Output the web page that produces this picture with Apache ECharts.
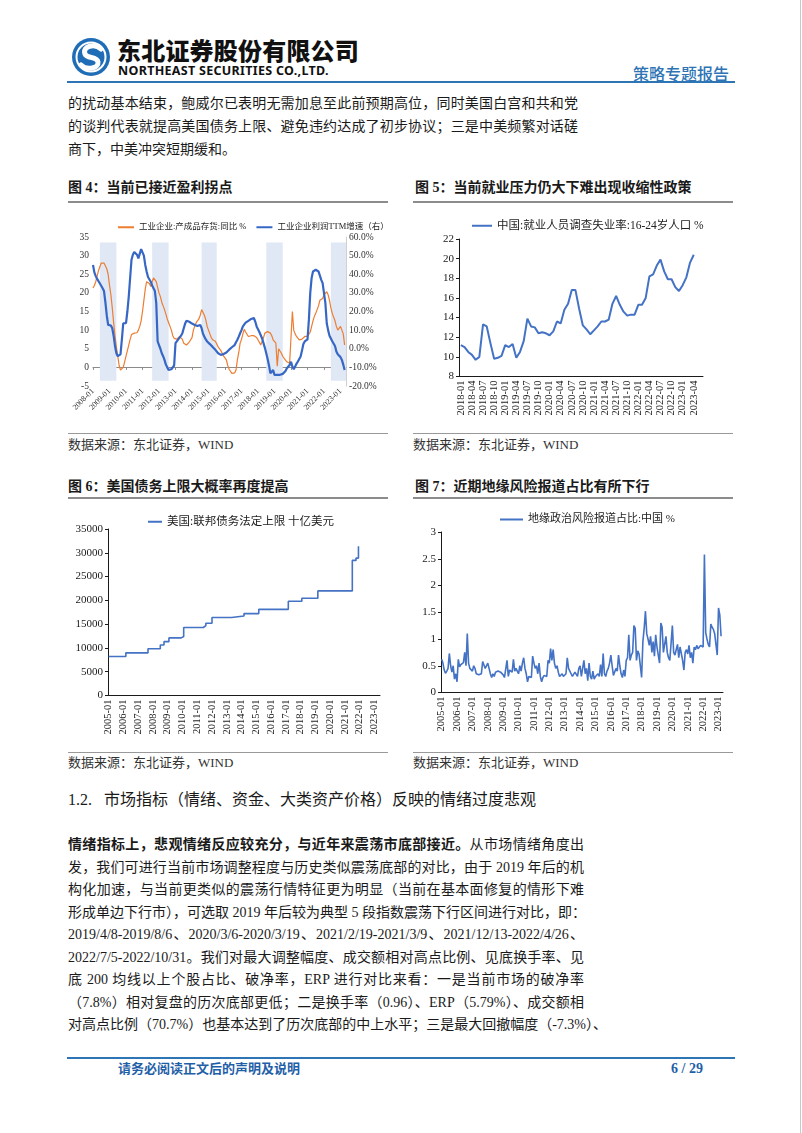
<!DOCTYPE html>
<html><head><meta charset="utf-8">
<script src="https://cdn.jsdelivr.net/npm/echarts@6/dist/echarts.min.js"></script>
<style>
html,body{margin:0;padding:0;background:#fff;}
body{width:802px;height:1133px;position:relative;overflow:hidden;font-family:"Liberation Serif","Noto Sans CJK SC",serif;color:#1a1a1a;}
.a{position:absolute;white-space:nowrap;}
.t14{font-size:14px;line-height:20px;}
.just{text-align:justify;text-align-last:justify;}
.hr{position:absolute;}
.ftitle{font-size:14px;font-weight:700;line-height:20px;font-family:"Liberation Serif","Noto Sans CJK SC",serif;}
.src{font-size:13px;line-height:18px;color:#333;}
.chart{position:absolute;}
</style></head>
<body>
<!-- header -->
<svg class="a" style="left:70px;top:36px" width="44" height="44" viewBox="0 0 44 44">
  <circle cx="21" cy="21" r="19" fill="#1f6db6"/>
  <circle cx="21" cy="21" r="14.5" fill="none" stroke="#fff" stroke-width="2"/>
  <path d="M31 13 C25 7,12 10,15 18 C17 23,27 20,28 26 C29 32,17 35,11 29" fill="none" stroke="#fff" stroke-width="5" stroke-linecap="round"/>
</svg>
<div class="a" style="left:117px;top:34px;font-family:'Noto Sans CJK SC';font-weight:900;font-size:24px;line-height:32px;letter-spacing:0.2px;color:#111;">东北证券股份有限公司</div>
<div class="a" style="left:118px;top:63px;font-family:'Noto Sans','DejaVu Sans',sans-serif;font-weight:700;font-size:12.5px;line-height:16px;letter-spacing:0.3px;color:#111;">NORTHEAST SECURITIES CO.,LTD.</div>
<div class="a" style="left:633px;top:62px;font-family:'Noto Sans CJK SC';font-weight:500;font-size:16px;line-height:22px;color:#2e74b5;">策略专题报告</div>
<div class="hr" style="left:67px;top:81px;width:668px;height:2px;background:#2e75b6;"></div>
<div class="hr" style="left:800px;top:0;width:1px;height:1133px;background:#c8c8c8;"></div>

<!-- top paragraph -->
<div class="a t14 just" style="left:68px;top:94px;width:510px;">的扰动基本结束，鲍威尔已表明无需加息至此前预期高位，同时美国白宫和共和党</div>
<div class="a t14 just" style="left:68px;top:117px;width:510px;">的谈判代表就提高美国债务上限、避免违约达成了初步协议；三是中美频繁对话磋</div>
<div class="a t14" style="left:68px;top:140px;">商下，中美冲突短期缓和。</div>

<!-- figure titles row 1 -->
<div class="a ftitle" style="left:68px;top:178px;">图 4：当前已接近盈利拐点</div>
<div class="a ftitle" style="left:415px;top:178px;">图 5：当前就业压力仍大下难出现收缩性政策</div>
<div class="hr" style="left:68px;top:201px;width:320px;height:2px;background:#8c8c8c;"></div>
<div class="hr" style="left:413px;top:201px;width:320px;height:2px;background:#8c8c8c;"></div>

<div id="c1" class="chart" style="left:60px;top:210px;width:335px;height:220px;"></div>
<div id="c2" class="chart" style="left:405px;top:210px;width:330px;height:220px;"></div>

<div class="hr" style="left:68px;top:433px;width:320px;height:1px;background:#999;"></div>
<div class="hr" style="left:413px;top:433px;width:320px;height:1px;background:#999;"></div>
<div class="a src" style="left:68px;top:436px;">数据来源：东北证券，WIND</div>
<div class="a src" style="left:413px;top:436px;">数据来源：东北证券，WIND</div>

<!-- figure titles row 2 -->
<div class="a ftitle" style="left:68px;top:477px;">图 6：美国债务上限大概率再度提高</div>
<div class="a ftitle" style="left:415px;top:477px;">图 7：近期地缘风险报道占比有所下行</div>
<div class="hr" style="left:68px;top:497px;width:320px;height:2px;background:#8c8c8c;"></div>
<div class="hr" style="left:413px;top:497px;width:320px;height:2px;background:#8c8c8c;"></div>

<div id="c3" class="chart" style="left:60px;top:500px;width:335px;height:248px;"></div>
<div id="c4" class="chart" style="left:405px;top:500px;width:330px;height:248px;"></div>

<div class="hr" style="left:68px;top:752px;width:320px;height:1px;background:#999;"></div>
<div class="hr" style="left:413px;top:752px;width:320px;height:1px;background:#999;"></div>
<div class="a src" style="left:68px;top:754px;">数据来源：东北证券，WIND</div>
<div class="a src" style="left:413px;top:754px;">数据来源：东北证券，WIND</div>

<!-- section -->
<div class="a" style="left:68px;top:789px;font-size:16px;line-height:22px;">1.2.&nbsp;&nbsp;&nbsp;市场指标（情绪、资金、大类资产价格）反映的情绪过度悲观</div>

<div class="a t14 just" style="left:68px;top:835px;width:516px;"><b>情绪指标上，悲观情绪反应较充分，与近年来震荡市底部接近。</b>从市场情绪角度出</div>
<div class="a t14 just" style="left:68px;top:857.5px;width:516px;">发，我们可进行当前市场调整程度与历史类似震荡底部的对比，由于 2019 年后的机</div>
<div class="a t14 just" style="left:68px;top:880px;width:516px;">构化加速，与当前更类似的震荡行情特征更为明显（当前在基本面修复的情形下难</div>
<div class="a t14 just" style="left:68px;top:902.5px;width:516px;">形成单边下行市），可选取 2019 年后较为典型 5 段指数震荡下行区间进行对比，即：</div>
<div class="a t14 just" style="left:68px;top:925px;width:516px;">2019/4/8-2019/8/6、2020/3/6-2020/3/19、2021/2/19-2021/3/9、2021/12/13-2022/4/26、</div>
<div class="a t14 just" style="left:68px;top:947.5px;width:516px;">2022/7/5-2022/10/31。我们对最大调整幅度、成交额相对高点比例、见底换手率、见</div>
<div class="a t14 just" style="left:68px;top:970px;width:516px;">底 200 均线以上个股占比、破净率，ERP 进行对比来看：一是当前市场的破净率</div>
<div class="a t14 just" style="left:68px;top:992.5px;width:516px;">（7.8%）相对复盘的历次底部更低；二是换手率（0.96）、ERP（5.79%）、成交额相</div>
<div class="a t14 just" style="left:68px;top:1015px;width:519px;">对高点比例（70.7%）也基本达到了历次底部的中上水平；三是最大回撤幅度（-7.3%）、</div>

<!-- footer -->
<div class="hr" style="left:67px;top:1057px;width:668px;height:2px;background:#2e75b6;"></div>
<div class="a" style="left:118px;top:1060px;font-size:13px;line-height:18px;font-weight:700;color:#1f5fa8;">请务必阅读正文后的声明及说明</div>
<div class="a" style="left:671px;top:1059px;font-size:14px;line-height:19px;font-weight:700;color:#1f5fa8;">6 / 29</div>

<script>
// ---------- helpers ----------
function monthRange(y0, m0, y1, m1) {
  var out = [];
  var y = y0, m = m0;
  while (y < y1 || (y === y1 && m <= m1)) {
    out.push(y + '-' + (m < 10 ? '0' + m : '' + m));
    m++; if (m > 12) { m = 1; y++; }
  }
  return out;
}
var FONT = 'Liberation Serif, Noto Sans CJK SC, serif';

// ---------- Chart 1 data (2008-01 .. 2023-04, monthly) ----------
var c1Categories = monthRange(2008, 1, 2023, 5);
var c1InvName = '工业企业:产成品存货:同比 %';
var c1ProfitName = '工业企业利润TTM增速（右）';
var c1Inventory = [
  21.3, 22, 23, 24.5, 26, 27, 28, 28.5, 28, 27.5, 26.5, 25,
  22, 19.5, 16, 12, 8.5, 5.5, 3, 0.5, -0.7, -0.5, 0, 1.5,
  3, 4.5, 6, 7.5, 8.8, 9.2, 9.2, 9, 9.3, 10, 11, 12.5,
  15, 18, 21, 23, 23.2, 22.5, 21.7, 23, 24, 24.2, 23, 21.5,
  20, 19, 17.5, 16.5, 15.5, 14.3, 13, 12, 11, 10, 8.5, 7.8,
  7.4, 7.6, 8, 8.3, 8.5, 7.5, 6.5, 6, 6, 6.5, 6.8, 7,
  8, 10, 11, 12, 12.5, 13, 14, 15.5, 15, 14, 12.8, 11,
  10, 9, 8, 7.4, 7.2, 7, 6.5, 5.5, 5, 4.5, 3.8, 3,
  2.5, 2, 0.5, -0.5, -1, -1.6, -1.8, -1.5, -0.7, 2, 4, 6.5,
  7.5, 9, 10.2, 9.5, 9, 8.3, 8, 8.5, 8.7, 8.5, 8.3, 8,
  7.4, 7, 6, 5.6, 8, 9.2, 9.6, 9.6, 9.4, 9.2, 8.5, 7.4,
  7, 6.5, 0.3, 5, 4.5, 3.8, 3, 2.4, 2, 1.5, 1.3, 1.1,
  1, 15, 10, 9, 8.3, 8, 7.4, 7.4, 7.6, 7.8, 8.3, 8.7,
  8.3, 8.5, 9.5, 11, 12.5, 13.7, 14.5, 15.5, 16.5, 18, 17.6, 18.5,
  19.5, 20, 20.3, 19.5, 18, 16, 14.5, 13.5, 12.5, 11, 10, 10.5,
  11, 10.5, 9, 6
];
var c1Profit = [
  45, 41, 39, 37.5, 36.5, 35, 34, 32.5, 31, 25, 18, 12.8,
  12, 12.5, 11, 7, 1.5, -2.4, -4, -5, -3, 5, 13.7, 13,
  13.7, 20, 28, 38, 47.8, 50.5, 52, 52.8, 50.5, 48.5, 47.8, 53.5,
  53.5, 50, 45, 41.5, 38.5, 37.5, 36, 34, 32.5, 31, 24.5, 4,
  2, 0, -2.4, -4, -6, -8.5, -10, -11.4, -11.5, -11, -10.5, -9,
  3, 4, 5, 5.7, 7, 8.3, 11, 13.5, 15, 15.2, 14.5, 13.7,
  13.5, 13, 12.8, 12.5, 12.2, 12, 12.8, 11, 8, 6.5, 5, 3.9,
  3, 2.5, 2, 1, 0, -0.6, -1.5, -2.4, -2.8, -3.3, -3.3, -2.8,
  -2.4, -2, -1.5, -0.5, 0.3, 0.8, 1.2, 2, 3.5, 4.8, 6.5, 8.3,
  10, 12, 13, 14, 14.6, 15, 15.5, 16, 17, 16.5, 14.6, 12,
  10.5, 9, 8, 5.5, 3, 0.5, -2.4, -5.5, -9, -13.2, -12.3, -11.4,
  -14, -14, -14, -14, -14, -14, -13.5, -13.2, -12, -10.5, -9.5, -8.7,
  -7, -9.6, -11, -10, -8, -6.9, -5.5, -4.2, -1, 2.5, 3.9, 4.5,
  5, 15.5, 30, 38, 41.5, 42.4, 42.4, 42, 41.5, 40.6, 37, 35.2,
  34.3, 24.5, 13.7, 10, 7, 5.5, 4, 3, 1.5, -1.5, -3, -4,
  -4.5, -6, -8.5, -11.4
];
// shaded periods [start, end]
var c1Shades = [['2008-06', '2009-06'], ['2011-08', '2012-08'], ['2014-08', '2015-07'], ['2018-07', '2019-07'], ['2022-06', '2023-05']];

// ---------- Chart 2 data (2018-01 .. 2023-04) ----------
var c2Categories = monthRange(2018, 1, 2023, 6);
var c2Name = '中国:就业人员调查失业率:16-24岁人口 %';
var c2Youth = [
  11.2, 11.0, 10.5, 10.2, 9.7, 10.0, 13.3, 13.1, 11.4, 9.8, 9.9, 10.1,
  11.2, 11.0, 11.3, 9.9, 10.5, 11.6, 13.9, 13.1, 13.0, 12.4, 12.5, 12.4,
  12.2, 12.6, 13.6, 13.4, 14.8, 15.4, 16.8, 16.8, 14.9, 13.2, 12.8, 12.3,
  12.7, 13.1, 13.6, 13.6, 13.8, 15.4, 16.2, 15.3, 14.6, 14.2, 14.3, 14.3,
  15.3, 15.3, 16.0, 18.2, 18.4, 19.3, 19.9, 18.7, 17.9, 17.9, 17.1, 16.7,
  17.3, 18.1, 19.6, 20.4
];

// ---------- Chart 3 data (debt ceiling steps) ----------
var c3Categories = monthRange(2005, 1, 2023, 5);
var c3Name = '美国:联邦债务法定上限 十亿美元';
var c3Months = ['2005-01', '2006-03', '2007-09', '2008-07', '2008-10', '2009-02', '2009-12', '2010-02', '2011-06', '2011-08', '2012-01', '2013-05', '2014-03', '2015-03', '2017-03', '2018-02', '2019-03', '2021-07', '2021-10', '2021-12'];
var c3Ceiling = [8184, 8965, 9815, 10615, 11315, 12104, 12394, 14294, 14694, 15194, 16394, 16699, 17212, 18113, 19809, 20456, 21988, 28401, 28881, 31381];

// ---------- Chart 4 data (2005-01 .. 2023-03) ----------
var c4Categories = monthRange(2005, 1, 2023, 4);
var c4Name = '地缘政治风险报道占比:中国 %';
var c4Risk = [
  0.62, 0.55, 0.42, 0.36, 0.4, 0.45, 0.73, 0.5, 0.38, 0.5, 0.25, 0.35,
  0.2, 0.62, 0.48, 0.52, 0.55, 0.56, 0.75, 0.5, 1.1, 0.55, 0.45, 0.42,
  0.4, 0.5, 0.45, 0.35, 0.38, 0.33, 0.3, 0.35, 0.58, 0.55, 0.45, 0.48,
  0.55, 0.45, 0.35, 0.28, 0.35, 0.3, 0.38, 0.35, 0.4, 0.42, 0.38, 0.36,
  0.33, 0.28, 0.25, 0.6, 0.3, 0.42, 0.4, 0.38, 0.62, 0.4, 0.45, 0.4,
  0.35, 0.5, 0.4, 0.55, 0.65, 0.45, 0.35, 0.2, 0.3, 0.32, 0.28, 0.68,
  0.55, 0.45, 0.5, 0.35, 0.55, 0.3, 0.2, 0.28, 0.32, 0.35, 0.3, 0.6,
  0.55, 0.82, 0.6, 0.8, 0.55, 0.45, 0.5, 0.38, 0.3, 0.32, 0.35, 0.3,
  0.32, 0.35, 0.65, 0.45, 0.4, 0.35, 0.3, 0.28, 0.38, 0.35, 0.3, 0.45,
  0.5, 0.3, 0.28, 0.6, 0.35, 0.45, 0.22, 0.55, 0.3, 0.25, 0.4, 0.25,
  0.3, 0.28, 0.35, 0.3, 0.52, 0.3, 0.73, 0.35, 0.3, 0.4, 0.45, 0.55,
  0.7, 0.5, 0.32, 0.3, 0.45, 0.4, 0.7, 0.5, 0.35, 0.28, 0.42, 0.3,
  0.6, 0.65, 1.08, 0.6, 0.7, 0.75, 1.25, 1.2, 0.6, 0.78, 0.72, 0.7,
  0.28, 0.95, 1.2, 1.52, 1.1, 1.0, 0.88, 1.05, 0.75, 0.95, 0.68, 1.08,
  0.85, 0.7, 0.55, 1.3, 1.22, 0.75, 0.9, 1.05, 0.75, 0.65, 0.6, 0.6,
  1.25, 0.75, 0.7, 0.8, 0.9, 0.65, 0.85, 0.88, 0.6, 0.42, 0.75, 0.8,
  0.72, 0.88, 0.65, 0.75, 0.55, 0.85, 0.8, 0.88, 0.82, 0.85, 0.88, 0.9,
  0.85, 2.58, 1.12, 1.0, 0.9, 0.85, 1.28, 1.22, 1.18, 1.1, 0.9, 0.7,
  1.58, 1.45, 1.05
];

// ---------- common axis styles ----------
var black = '#1a1a1a';
function valAxis(min, max, interval, extra) {
  var o = {
    type: 'value', min: min, max: max, interval: interval,
    axisLine: { show: true, lineStyle: { color: black, width: 1 } },
    axisTick: { show: true, length: 3, lineStyle: { color: black } },
    splitLine: { show: false },
    axisLabel: { fontSize: 11, color: black, fontFamily: FONT, margin: 5,
      formatter: function (v) { return String(v); } }
  };
  if (extra) for (var k in extra) o[k] = extra[k];
  return o;
}
function catAxis(cats, interval, extra) {
  var o = {
    type: 'category', data: cats, boundaryGap: true,
    axisLine: { lineStyle: { color: black, width: 1 } },
    axisTick: { interval: interval, alignWithLabel: true, length: 3, lineStyle: { color: black } },
    axisLabel: { rotate: 90, interval: interval, fontSize: 10.5, color: black, fontFamily: FONT, margin: 4 }
  };
  if (extra) for (var k in extra) o[k] = extra[k];
  return o;
}
function legend(left, top, iw, fs, names) {
  return {
    left: left, top: top, itemWidth: iw, itemHeight: 2, itemGap: 10,
    textStyle: { fontSize: fs, color: '#222', fontFamily: FONT },
    data: names.map(function (n) { return { name: n, icon: 'rect' }; })
  };
}

// ---------- Chart 1 ----------
var ch1 = echarts.init(document.getElementById('c1'), null, { renderer: 'canvas' });
ch1.setOption({
  animation: false,
  textStyle: { fontFamily: FONT },
  legend: legend(53, 8, 16, 8.5, [c1InvName, c1ProfitName]),
  grid: { left: 33, top: 27, width: 253, height: 149 },
  xAxis: [
    { type: 'category', data: c1Categories, boundaryGap: false,
      axisLine: { onZero: true, onZeroAxisIndex: 0, lineStyle: { color: '#8a8a8a' } },
      axisTick: { interval: 11, length: 2.5, lineStyle: { color: '#8a8a8a' } },
      axisLabel: { show: false } },
    { type: 'category', data: c1Categories, boundaryGap: false, position: 'bottom',
      axisLine: { show: false, onZero: false }, axisTick: { show: false },
      axisLabel: { rotate: 45, interval: 11, fontSize: 8, color: '#333', fontFamily: FONT, margin: 4 } }
  ],
  yAxis: [
    { type: 'value', min: -5, max: 35, interval: 5, axisLine: { show: false }, axisTick: { show: false },
      splitLine: { show: false }, axisLabel: { fontSize: 9.5, color: '#333', fontFamily: FONT, margin: 4 } },
    { type: 'value', min: -20, max: 60, interval: 10, position: 'right',
      axisLine: { show: true, lineStyle: { color: '#d0d0d0' } }, axisTick: { show: false },
      splitLine: { show: false },
      axisLabel: { fontSize: 9.5, color: '#333', fontFamily: FONT, margin: 3,
        formatter: function (v) { return v.toFixed(1) + '%'; } } }
  ],
  series: [
    { name: c1InvName, type: 'line', data: c1Inventory, xAxisIndex: 0, yAxisIndex: 0, symbol: 'none',
      lineStyle: { color: '#ED7D31', width: 1.2 }, itemStyle: { color: '#ED7D31' },
      markArea: { silent: true, itemStyle: { color: '#dfe8f4' },
        data: c1Shades.map(function (p) { return [{ xAxis: p[0], yAxis: 33.5 }, { xAxis: p[1], yAxis: -3.6 }]; }) } },
    { name: c1ProfitName, type: 'line', data: c1Profit, xAxisIndex: 0, yAxisIndex: 1, symbol: 'none',
      lineStyle: { color: '#3767c4', width: 2.2 }, itemStyle: { color: '#3767c4' } }
  ]
});

// ---------- Chart 2 ----------
var ch2 = echarts.init(document.getElementById('c2'));
ch2.setOption({
  animation: false,
  textStyle: { fontFamily: FONT },
  legend: legend(62, 5, 20, 11.5, [c2Name]),
  grid: { left: 54, top: 29, width: 244, height: 137.5 },
  xAxis: catAxis(c2Categories, 2, { axisTick: { interval: 0, length: 3, lineStyle: { color: black } } }),
  yAxis: valAxis(8, 22, 2),
  series: [{ name: c2Name, type: 'line', data: c2Youth, symbol: 'none',
    lineStyle: { color: '#4472C4', width: 2 }, itemStyle: { color: '#4472C4' } }]
});

// ---------- Chart 3 ----------
var ch3 = echarts.init(document.getElementById('c3'));
ch3.setOption({
  animation: false,
  textStyle: { fontFamily: FONT },
  legend: legend(83, 11, 14, 11.5, [c3Name]),
  grid: { left: 48, top: 29, width: 272, height: 166.5 },
  xAxis: catAxis(c3Categories, 11),
  yAxis: valAxis(0, 35000, 5000),
  series: [{ name: c3Name, type: 'line', step: 'end', symbol: 'none',
    data: c3Months.map(function (m, i) { return [m, c3Ceiling[i]]; }),
    lineStyle: { color: '#4472C4', width: 1.6 }, itemStyle: { color: '#4472C4' } }]
});

// ---------- Chart 4 ----------
var ch4 = echarts.init(document.getElementById('c4'));
ch4.setOption({
  animation: false,
  textStyle: { fontFamily: FONT },
  legend: legend(90, 9, 23, 11, [c4Name]),
  grid: { left: 36, top: 32, width: 282, height: 160.5 },
  xAxis: catAxis(c4Categories, 11),
  yAxis: valAxis(0, 3, 0.5),
  series: [{ name: c4Name, type: 'line', data: c4Risk, symbol: 'none',
    lineStyle: { color: '#4472C4', width: 1.6 }, itemStyle: { color: '#4472C4' } }]
});
</script>
</body></html>
